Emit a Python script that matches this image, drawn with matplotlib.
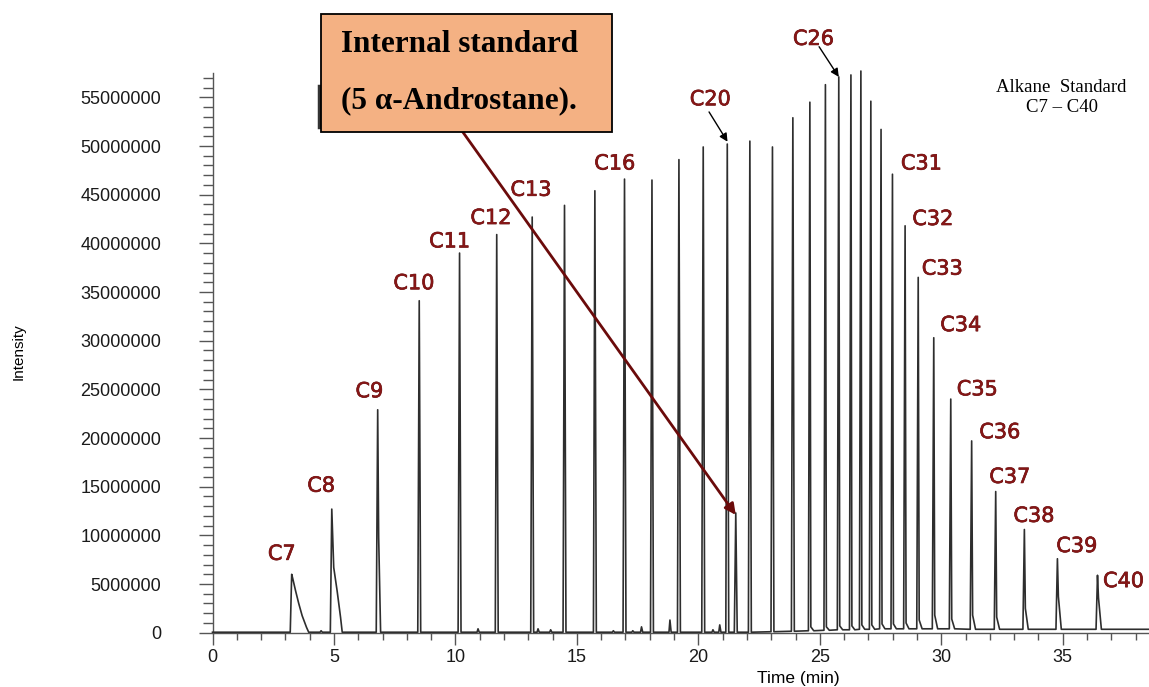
import numpy as np
import matplotlib.pyplot as plt
import matplotlib.patheffects as pe
from matplotlib.patches import Rectangle
from matplotlib.lines import Line2D
from matplotlib.ticker import MultipleLocator, FuncFormatter

# main alkane peaks (+ internal standard), retention time in min, height in millions
peak_names = ['C7', 'C8', 'C9', 'C10', 'C11', 'C12', 'C13', 'C14', 'C15', 'C16',
              'C17', 'C18', 'C19', 'C20', 'IS', 'C21', 'C22', 'C23', 'C24', 'C25',
              'C26', 'C27', 'C28', 'C29', 'C30', 'C31', 'C32', 'C33', 'C34', 'C35',
              'C36', 'C37', 'C38', 'C39', 'C40']
peak_rt = [3.26, 4.91, 6.80, 8.51, 10.17, 11.70, 13.16, 14.49, 15.74, 16.96,
           18.09, 19.20, 20.20, 21.19, 21.54, 22.12, 23.05, 23.89, 24.59, 25.23,
           25.78, 26.28, 26.69, 27.10, 27.52, 27.99, 28.51, 29.05, 29.69, 30.39,
           31.25, 32.24, 33.42, 34.78, 36.43]
peak_height = [6.0, 12.7, 22.9, 34.1, 39.0, 40.9, 42.7, 43.9, 45.4, 46.6,
               46.5, 48.6, 49.9, 50.2, 12.3, 50.5, 49.9, 52.9, 54.5, 56.3,
               57.1, 57.3, 57.7, 54.6, 51.7, 47.1, 41.8, 36.5, 30.3, 24.0,
               19.7, 14.5, 10.6, 7.6, 5.9]
# baseline level under each peak and the small shoulder just after it (millions)
peak_foot = [0.05] * 16 + [0.1, 0.15, 0.2, 0.25, 0.3, 0.3, 0.35, 0.35, 0.4,
                            0.4, 0.4, 0.4, 0.4, 0.4, 0.35, 0.35, 0.35, 0.35, 0.35]
peak_tail = [0.0] * 18 + [0.6, 0.6, 0.7, 0.7, 0.8, 0.8, 0.9, 0.9, 1.0, 1.3,
                          1.8, 1.4, 1.8, 1.6, 2.5, 3.7, 3.6]

# tailing of the early peaks (time, intensity in millions)
special_tail = {
    'C7': ([3.30, 3.42, 3.55, 3.69, 3.87, 3.96], [5.6, 4.3, 3.0, 1.75, 0.55, 0.05]),
    'C8': ([4.99, 5.13, 5.27, 5.34], [6.7, 4.3, 1.6, 0.05]),
    'C9': ([6.84, 6.92], [9.8, 0.05]),
}

# small impurity peaks
minor_rt = [4.47, 10.93, 13.40, 13.92, 16.50, 17.30, 17.66, 18.83, 20.60, 20.88]
minor_height = [0.2, 0.4, 0.4, 0.3, 0.2, 0.2, 0.6, 1.3, 0.3, 0.8]

labelled = ['C7', 'C8', 'C9', 'C10', 'C11', 'C12', 'C13', 'C16', 'C20', 'C26',
            'C31', 'C32', 'C33', 'C34', 'C35', 'C36', 'C37', 'C38', 'C39', 'C40']
label_x = [2.85, 4.47, 6.46, 8.29, 9.76, 11.46, 13.11, 16.56, 20.49, 24.74,
           29.18, 29.65, 30.04, 30.80, 31.48, 32.41, 32.82, 33.81, 35.58, 37.50]
label_y = [8.1, 15.1, 24.8, 35.9, 40.2, 42.6, 45.5, 48.2, 54.8, 61.0,
           48.2, 42.5, 37.4, 31.6, 25.0, 20.6, 16.0, 12.0, 8.9, 5.3]

# build the trace as a polyline
segs = []
for name, r, h, b, tl in zip(peak_names, peak_rt, peak_height, peak_foot, peak_tail):
    ts = [r - 0.06, r]
    ys = [b, h]
    if name in special_tail:
        ts += special_tail[name][0]
        ys += special_tail[name][1]
    elif tl > b:
        ts += [r + 0.04, r + 0.16]
        ys += [tl, b]
    else:
        ts += [r + 0.06]
        ys += [b]
    segs.append((ts, ys))
for r, h in zip(minor_rt, minor_height):
    segs.append(([r - 0.04, r, r + 0.05], [0.05, h, 0.05]))
segs.sort(key=lambda s: s[0][0])

t = [0.0]
y = [0.05]
for ts, ys in segs:
    t += ts
    y += ys
t.append(38.6)
y.append(0.35)
t = np.array(t)
y = np.array(y) * 1e6

W, H = 1149, 687
fig = plt.figure(figsize=(W / 100, H / 100), dpi=100)
ax = fig.add_axes([212.5 / W, 54.3 / H, 1 - 212.5 / W, (632.7 - 73) / H])

ax.plot(t, y, color='#2e2e2e', lw=1.2, clip_on=False, zorder=3)

ax.set_xlim(0, 38.55)
ax.set_ylim(0, 57.5e6)
for s in ['top', 'right']:
    ax.spines[s].set_visible(False)
for s in ['left', 'bottom']:
    ax.spines[s].set_color('#555555')
    ax.spines[s].set_linewidth(1.0)

ax.xaxis.set_major_locator(MultipleLocator(5))
ax.xaxis.set_minor_locator(MultipleLocator(1))
ax.yaxis.set_major_locator(MultipleLocator(5e6))
ax.yaxis.set_minor_locator(MultipleLocator(1e6))
ax.yaxis.set_major_formatter(FuncFormatter(lambda v, p: '%d' % round(v)))

ax.tick_params(axis='y', which='major', length=10, width=1, color='#555555',
               pad=27, labelsize=13)
ax.tick_params(axis='y', which='minor', length=7, width=1, color='#555555')
ax.tick_params(axis='x', which='major', length=8.5, width=1, color='#555555',
               pad=3, labelsize=13)
ax.tick_params(axis='x', which='minor', length=5, width=1, color='#555555')
for lab in ax.get_xticklabels() + ax.get_yticklabels():
    lab.set_fontfamily('Liberation Sans')
    lab.set_color('#1a1a1a')

# peak labels
stroke = [pe.withStroke(linewidth=0.45, foreground='#5a0808')]
for name, lx, ly in zip(labelled, label_x, label_y):
    ax.text(lx, ly * 1e6, name, color='#861616', fontsize=15, ha='center',
            va='center', fontfamily='DejaVu Sans', clip_on=False, zorder=4,
            path_effects=stroke)

arrow_k = dict(arrowstyle='-|>', color='black', lw=1.0, mutation_scale=12,
               shrinkA=0, shrinkB=0)
ax.annotate('', xy=(21.20, 50.44e6), xytext=(20.44, 53.5e6),
            arrowprops=arrow_k, annotation_clip=False)
ax.annotate('', xy=(25.78, 57.1e6), xytext=(24.97, 60.2e6),
            arrowprops=arrow_k, annotation_clip=False)

# internal standard arrow
ax.annotate('', xy=(21.54, 12.1e6), xytext=(10.0, 52.5e6),
            arrowprops=dict(arrowstyle='-|>', color='#6b0b0b', lw=2.0,
                            mutation_scale=16, shrinkA=0, shrinkB=0),
            annotation_clip=False, zorder=4)

# internal standard box (figure coordinates)
box = Rectangle((320.7 / W, 1 - 132 / H), (611.7 - 320.7) / W, 118 / H,
                transform=fig.transFigure, facecolor='#F4B183',
                edgecolor='black', lw=1.3, zorder=5)
fig.patches.append(box)
fig.add_artist(Line2D([319 / W, 319 / W], [1 - 86 / H, 1 - 127 / H],
                      color='#333333', lw=2.5, zorder=4))
fig.text(341 / W, 1 - 44 / H, 'Internal standard', fontfamily='Liberation Serif',
         fontweight='bold', fontsize=22.5, va='center', ha='left', zorder=6)
fig.text(341 / W, 1 - 101 / H, '(5 \u03b1-Androstane).', fontfamily='Liberation Serif',
         fontweight='bold', fontsize=22.5, va='center', ha='left', zorder=6)

fig.text(1061 / W, 1 - 87 / H, 'Alkane  Standard', fontfamily='Liberation Serif',
         fontsize=13.5, ha='center', va='center')
fig.text(1062 / W, 1 - 108 / H, 'C7 \u2013 C40', fontfamily='Liberation Serif',
         fontsize=13.5, ha='center', va='center')

fig.text(19 / W, 1 - 352 / H, 'Intensity', rotation=90, fontsize=11,
         fontfamily='Liberation Sans', ha='center', va='center')
fig.text(798 / W, 1 - 678 / H, 'Time (min)', fontsize=12.5,
         fontfamily='Liberation Sans', ha='center', va='center')

fig.savefig('out.png', dpi=100)
